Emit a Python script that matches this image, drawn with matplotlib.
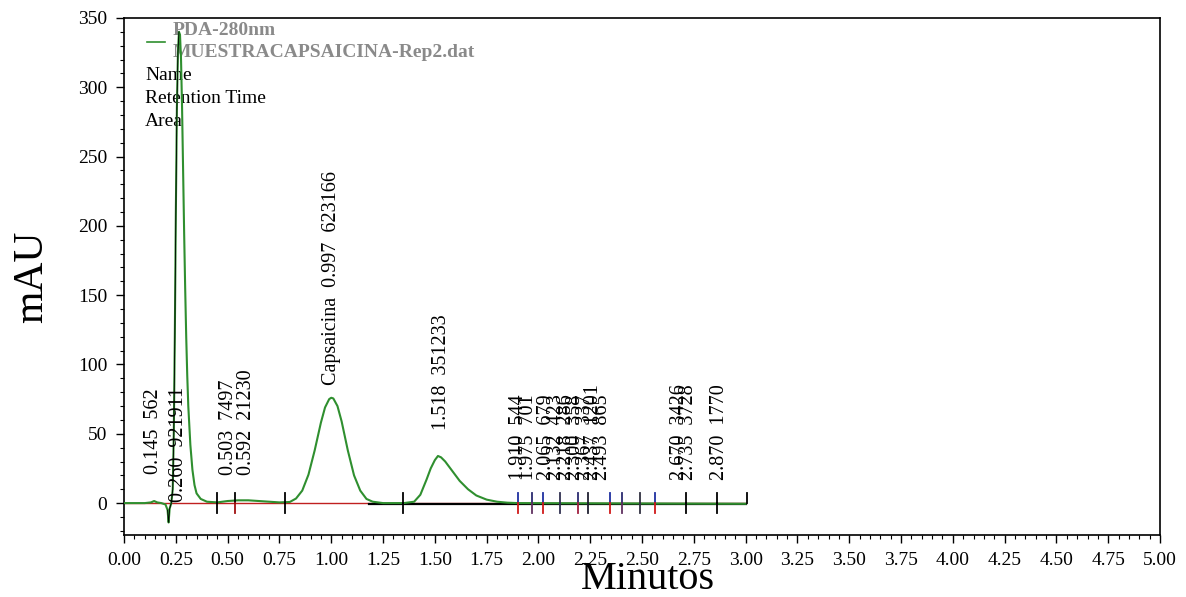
import numpy as np
import matplotlib
matplotlib.use("Agg")
import matplotlib.pyplot as plt
from matplotlib.ticker import MultipleLocator

plt.rcParams['font.family'] = ['Liberation Serif', 'DejaVu Serif']

# chromatogram trace (minutes, mAU)
time = [0.00, 0.10, 0.13, 0.145, 0.16, 0.18, 0.20, 0.21, 0.215, 0.22, 0.228,
        0.235, 0.24, 0.245, 0.25, 0.255, 0.26, 0.265, 0.27, 0.275, 0.28, 0.285,
        0.29, 0.295, 0.30, 0.305, 0.31, 0.32, 0.33, 0.34, 0.35, 0.37, 0.40, 0.45,
        0.50, 0.55, 0.60, 0.65, 0.70, 0.75, 0.80, 0.83, 0.86, 0.89, 0.92, 0.95,
        0.97, 0.99, 1.00, 1.01, 1.03, 1.05, 1.08, 1.11, 1.14, 1.17, 1.20, 1.25,
        1.35, 1.40, 1.43, 1.46, 1.48, 1.50, 1.515, 1.53, 1.55, 1.58, 1.62, 1.66,
        1.70, 1.75, 1.80, 1.85, 1.90, 3.00]
signal = [0.0, 0.0, 0.5, 1.5, 0.5, 0.0, -1.0, -5.0, -14.0, -4.0, 0.0,
          10, 50, 120, 210, 285, 325, 340, 338, 320, 285, 240,
          195, 155, 120, 92, 70, 42, 24, 13, 7, 3, 1.0, 0.5,
          1.5, 2.0, 2.0, 1.5, 1.0, 0.5, 0.8, 3.3, 9, 20.5, 38, 58,
          69, 75, 76, 75.5, 70, 59, 38, 20, 9, 3, 1, 0,
          0, 1, 6, 17, 25, 31, 34, 33, 30, 24, 16, 10,
          5.5, 2.5, 1.0, 0.3, 0.0, -0.5]

# peak start/end markers
marker_t = [0.447, 0.536, 0.777, 1.348, 1.900, 1.967, 2.024, 2.104, 2.193,
            2.238, 2.345, 2.402, 2.490, 2.563, 2.711, 2.860]
marker_top = ['k', 'k', 'k', 'k', '#1f2fa0', '#2a2a70', '#1f2fa0', '#303050', '#2a2a70',
              '#202030', '#1f2fa0', '#2a2a70', '#303040', '#1f2fa0', 'k', 'k']
marker_bot = ['k', '#a01010', 'k', 'k', '#d01818', '#603060', '#d01818', '#303050', '#a02040',
              '#202030', '#d01818', '#603060', '#303040', '#d01818', 'k', 'k']
end_t = 3.005

# peak annotations
ann_text = ['0.145  562', '0.260  921911', '0.503  7497', '0.592  21230',
            'Capsaicina  0.997  623166', '1.518  351233',
            '1.910  544', '1.975  701', '2.065  679', '2.132  423', '2.218  286',
            '2.300  358', '2.367  337', '2.437  1201', '2.493  865',
            '2.670  3426', '2.735  3728', '2.870  1770']
ann_x = [0.142, 0.262, 0.503, 0.593, 1.000, 1.530,
         1.906, 1.950, 2.040, 2.085, 2.135, 2.178, 2.225, 2.265, 2.310,
         2.683, 2.726, 2.876]
ann_y = [21, 1, 20, 20, 85, 53,
         17, 17, 17, 17, 17, 17, 17, 17, 17,
         17, 17, 17]

fig = plt.figure(figsize=(11.86, 5.97), dpi=100)
ax = fig.add_axes([0.1046, 0.1039, 0.8735, 0.866])

ax.plot([0, 3.0], [0, 0], color='#c02020', lw=1.0, zorder=2)
ax.plot([1.18, 1.90], [-0.3, -0.3], color='k', lw=1.6, zorder=3)
ax.plot([1.90, 3.0], [-0.6, -0.6], color='k', lw=1.6, zorder=3)
ax.plot(time, signal, color='#2f8f2f', lw=1.5, zorder=4)
t = np.array(time)
s = np.array(signal)
m = (t >= 0.205) & (t <= 0.265)
ax.plot(t[m], s[m], color='k', lw=0.6, zorder=5)

for x, ct, cb in zip(marker_t, marker_top, marker_bot):
    ax.plot([x, x], [0, 7], color=ct, lw=1.3, zorder=6)
    ax.plot([x, x], [-7, 0], color=cb, lw=1.3, zorder=6)
ax.plot([end_t, end_t], [0, 7], color='k', lw=1.3, zorder=6)

for txt, x, y in zip(ann_text, ann_x, ann_y):
    ax.text(x, y, txt, rotation=90, ha='center', va='bottom', fontsize=14.5, zorder=7)

# legend block
ax.plot([0.0222, 0.0396], [0.9536, 0.9536], color='#2f8f2f', lw=1.2, transform=ax.transAxes)
ax.text(0.0473, 0.9749, 'PDA-280nm', transform=ax.transAxes, fontsize=14,
        fontweight='bold', color='#8a8a8a', va='center', ha='left')
ax.text(0.0473, 0.9323, 'MUESTRACAPSAICINA-Rep2.dat', transform=ax.transAxes, fontsize=14,
        fontweight='bold', color='#8a8a8a', va='center', ha='left')
for lab, yy in zip(['Name', 'Retention Time', 'Area'], [0.8878, 0.8433, 0.7988]):
    ax.text(0.0203, yy, lab, transform=ax.transAxes, fontsize=14, va='center', ha='left')

ax.set_xlim(0, 5)
ax.set_ylim(-23, 350)
ax.xaxis.set_major_locator(MultipleLocator(0.25))
ax.xaxis.set_minor_locator(MultipleLocator(0.05))
ax.yaxis.set_major_locator(MultipleLocator(50))
ax.yaxis.set_minor_locator(MultipleLocator(10))
ax.xaxis.set_major_formatter(plt.FormatStrFormatter('%.2f'))
ax.tick_params(which='major', length=6, width=1, labelsize=14, pad=6)
ax.tick_params(which='minor', length=3, width=0.8)
for sp in ax.spines.values():
    sp.set_linewidth(1.2)

ax.set_xlabel('Minutos', fontsize=29)
ax.set_ylabel('mAU', fontsize=30)
ax.xaxis.set_label_coords(0.506, -0.05)
ax.yaxis.set_label_coords(-0.07, 0.5)

fig.savefig('out.png', dpi=100)
